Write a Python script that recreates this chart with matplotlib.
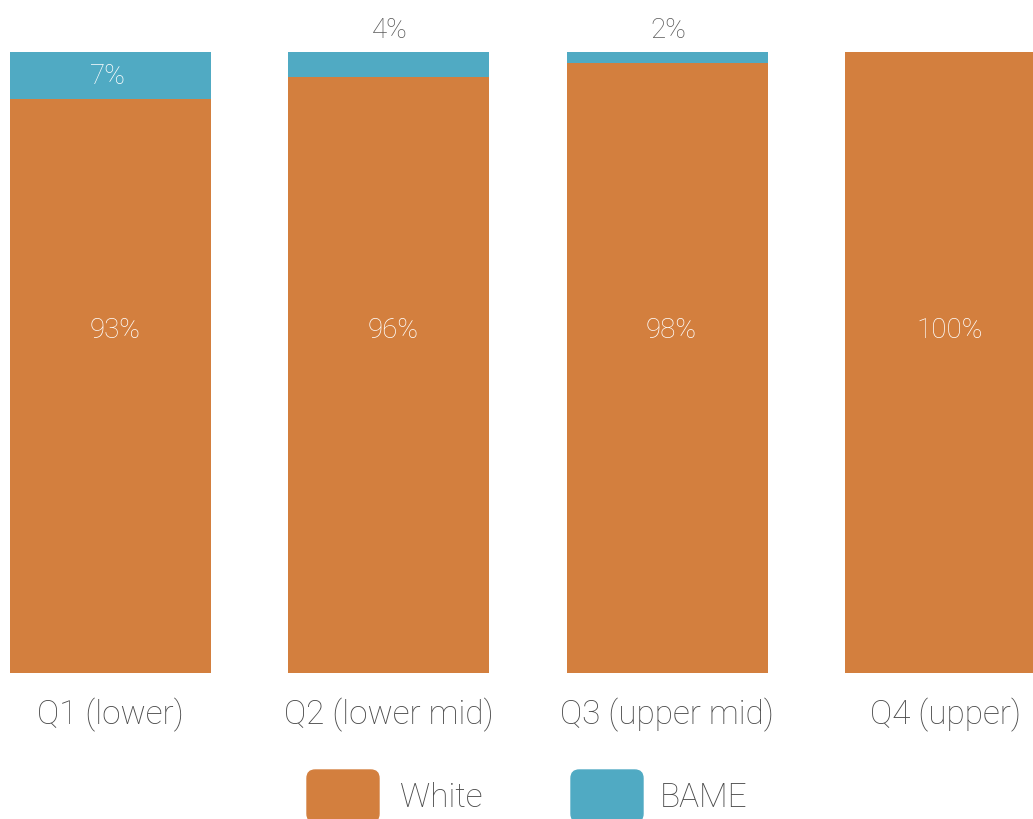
import matplotlib.pyplot as plt
from matplotlib.patches import FancyBboxPatch

# data (segment heights, labels as printed)
categories = ["Q1 (lower)", "Q2 (lower mid)", "Q3 (upper mid)", "Q4 (upper)"]
white = [92.4, 96, 98.2, 100]
bame = [7.6, 4, 1.8, 0]
white_labels = ["93%", "96%", "98%", "100%"]
bame_labels = ["7%", "4%", "2%", ""]

orange = "#D37F3E"
teal = "#50AAC3"
grey = "#4A4A4A"

plt.rcParams['font.family'] = ['Roboto', 'DejaVu Sans']
plt.rcParams['font.weight'] = 'light'

fig = plt.figure(figsize=(10.33, 8.2), dpi=100)
ax = fig.add_axes([0, 146 / 820, 1, 621 / 820])

x = list(range(len(categories)))
ax.bar(x, white, width=0.722, color=orange)
ax.bar(x, bame, width=0.722, bottom=white, color=teal)

for i in x:
    ax.text(i + 0.015, 55.3, white_labels[i], ha="center", va="center",
            color="white", fontsize=20)
    if bame[i] >= 5:
        ax.text(i - 0.01, white[i] + bame[i] / 2, bame_labels[i], ha="center",
                va="center", color="white", fontsize=20)
    elif bame[i] > 0:
        ax.text(i + 0.005, 103.6, bame_labels[i], ha="center", va="center",
                color="#5A5A5A", fontsize=20, clip_on=False)

ax.set_xlim(-0.397, 3.314)
ax.set_ylim(0, 100)
ax.set_xticks(x)
ax.set_xticklabels(categories, fontsize=24, color=grey)
ax.tick_params(axis="x", length=0, pad=17)
ax.set_yticks([])
for s in ax.spines.values():
    s.set_visible(False)

# legend drawn by hand, it is cut off by the bottom edge
W, H = 1033, 820
legend_items = [("White", orange, 307, 400), ("BAME", teal, 571, 660)]
for name, col, px, tx in legend_items:
    fig.patches.append(FancyBboxPatch((px / W, 1 - 823 / H), 72 / W, 52 / H,
                                      boxstyle="round,pad=0,rounding_size=0.008",
                                      transform=fig.transFigure, color=col,
                                      mutation_aspect=W / H))
    fig.text(tx / W, 1 - 798 / H, name, ha="left", va="center", fontsize=24,
             color=grey)

fig.savefig("out.png", dpi=100)
